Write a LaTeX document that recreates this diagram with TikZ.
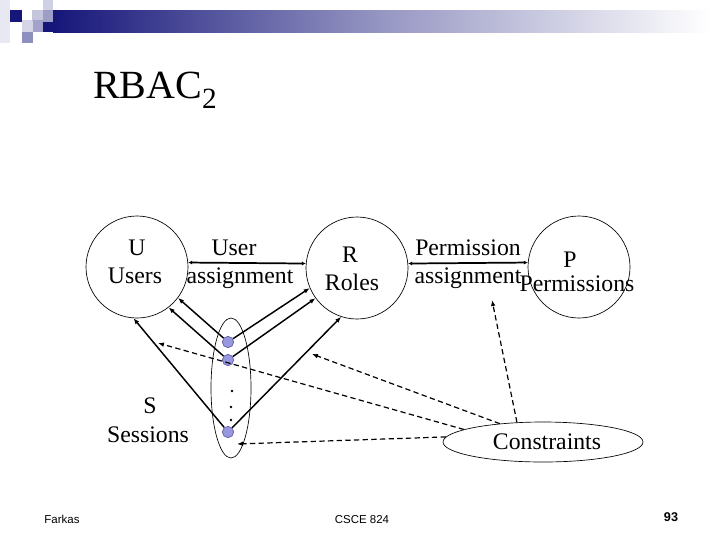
\documentclass[tikz,border=0pt]{standalone}
\usepackage{fontspec}
\setmainfont{Liberation Serif}
\newfontfamily\footfont{Liberation Sans}
\usetikzlibrary{arrows.meta,shapes.geometric}
\definecolor{navy}{HTML}{16167A}
\definecolor{dotblue}{HTML}{9898DE}
\definecolor{dotedge}{HTML}{5C5CAA}
\begin{document}
\begin{tikzpicture}[x=0.75pt,y=-0.75pt,
  set/.style={draw,circle,minimum size=76.5pt,inner sep=0pt,line width=0.5pt},
  lbl/.style={anchor=base,inner sep=0pt,font=\fontsize{17.8}{20}\selectfont},
  sdot/.style={circle,fill=dotblue,draw=dotedge,line width=0.5pt,minimum size=8.5pt,inner sep=0pt},
  dotsm/.style={circle,fill=black,minimum size=2.2pt,inner sep=0pt},
  rel/.style={line width=1.1pt,-{Latex[length=4.5pt,width=3.5pt]}},
  assign/.style={line width=1.3pt,{Latex[length=3pt,width=3pt]}-{Latex[length=3pt,width=3pt]}},
  cdash/.style={line width=0.9pt,dash pattern=on 4pt off 2.5pt,-{Latex[length=4.5pt,width=3.5pt]}},
  foot/.style={anchor=base,inner sep=0pt,font=\footfont\fontsize{8.6}{10}\selectfont}]
\useasboundingbox (0,0) rectangle (720,540);
\fill[white] (0,0) rectangle (720,540);
% header
\fill[navy!10] (0,0) rectangle (10,43);
\fill[navy] (10,10) rectangle (22,22);
\fill[navy!18] (22,20) rectangle (33,32);
\fill[navy!25] (32,10) rectangle (43,22);
\fill[navy!20] (43,0) rectangle (53,10);
\fill[navy!42] (43,10) rectangle (53,22);
\fill[navy!40] (33,20) rectangle (43,32);
\fill[navy!48] (22,32) rectangle (33,43);
\fill[navy] (43,22) rectangle (53,32);
\shade[left color=navy,right color=white,middle color=navy!45] (53,10) rectangle (710,32);
\node[anchor=base west,inner sep=0pt,font=\fontsize{30}{34}\selectfont] (title) at (93,98)
  {RBAC\raisebox{-8pt}{\fontsize{22}{24}\selectfont 2}};
% sets
\node[set] (users) at (137,267) {};
\node[set] (roles) at (357,268) {};
\node[set] (perms) at (579,267) {};
\node[lbl] (ut) at (137,255) {U};
\node[lbl] (ut2) at (135,283) {Users};
\node[lbl] (rt) at (350,262) {R};
\node[lbl] (rt2) at (352,290) {Roles};
\node[lbl] (pt) at (570,267) {P};
\node[lbl] (pt2) at (577,291) {Permissions};
\node[lbl] (ua) at (234,255) {User};
\node[lbl] (ua2) at (240,283) {assignment};
\node[lbl] (pa1) at (468,255) {Permission};
\node[lbl] (pa2) at (468,283) {assignment};
\draw[assign] (users.5) -- (roles.175);
\draw[assign] (roles.5) -- (perms.175);
% sessions
\node[draw,ellipse,minimum width=30pt,minimum height=105pt,inner sep=0pt,line width=0.5pt] (sess) at (231,388) {};
\node[lbl] (st) at (150,413) {S};
\node[lbl] (st2) at (148,442) {Sessions};
\node[sdot] (d1) at (228,342) {};
\node[sdot] (d2) at (228,360) {};
\node[sdot] (d3) at (228,432) {};
\node[dotsm] (e1) at (232,391) {};
\node[dotsm] (e2) at (231,407) {};
\node[dotsm] (e3) at (231,420) {};
\draw[rel] (d1) -- (users.-37);
\draw[rel] (d1) -- (roles.-157);
\draw[rel] (d2) -- (users.-52);
\draw[rel] (d2) -- (roles.-144);
\draw[rel] (d3) -- (users.-94);
\draw[rel] (d3) -- (roles.-108);
% constraints
\node[draw,ellipse,minimum width=150pt,minimum height=30pt,inner sep=0pt,line width=0.5pt] (cons) at (543,442) {};
\node[lbl] (ct) at (547,449) {Constraints};
\coordinate (pa) at (492,300);
\coordinate (sr) at (312,354);
\coordinate (su) at (158,343);
\coordinate (sx) at (237,444);
\draw[cdash] (cons.143) -- (pa);
\draw[cdash] (cons.157) -- (sr);
\draw[cdash] (cons.171) -- (su);
\draw[cdash] (cons.177) -- (sx);
% footer
\node[foot] (f1) at (62,523) {Farkas};
\node[foot] (f2) at (362,523) {CSCE 824};
\node[foot,font=\footfont\bfseries\fontsize{9.5}{10}\selectfont] (f3) at (671,521) {93};
\end{tikzpicture}
\end{document}
